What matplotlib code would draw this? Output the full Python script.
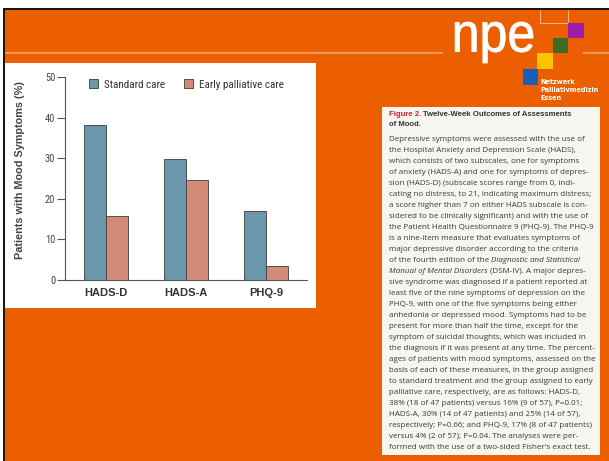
import numpy as np
import matplotlib
matplotlib.use('Agg')
import matplotlib.pyplot as plt
from matplotlib.patches import Rectangle, PathPatch
from matplotlib.textpath import TextPath
from matplotlib.font_manager import FontProperties, fontManager
from matplotlib.transforms import Affine2D
from matplotlib.lines import Line2D

# ---------------- data ----------------
categories = ['HADS-D', 'HADS-A', 'PHQ-9']
standard_care = [38.3, 29.8, 17.0]
early_palliative = [15.8, 24.6, 3.5]
series_labels = ['Standard care', 'Early palliative care']
y_ticks = [0, 10, 20, 30, 40, 50]
y_label = 'Patients with Mood Symptoms (%)'

caption_fig = 'Figure 2.'
caption_title = ['Twelve-Week Outcomes of Assessments', 'of Mood.']
caption_body = [
    "Depressive symptoms were assessed with the use of",
    "the Hospital Anxiety and Depression Scale (HADS),",
    "which consists of two subscales, one for symptoms",
    "of anxiety (HADS-A) and one for symptoms of depres-",
    "sion (HADS-D) (subscale scores range from 0, indi-",
    "cating no distress, to 21, indicating maximum distress;",
    "a score higher than 7 on either HADS subscale is con-",
    "sidered to be clinically significant) and with the use of",
    "the Patient Health Questionnaire 9 (PHQ-9). The PHQ-9",
    "is a nine-item measure that evaluates symptoms of",
    "major depressive disorder according to the criteria",
    "of the fourth edition of the *Diagnostic and Statistical*",
    "*Manual of Mental Disorders* (DSM-IV). A major depres-",
    "sive syndrome was diagnosed if a patient reported at",
    "least five of the nine symptoms of depression on the",
    "PHQ-9, with one of the five symptoms being either",
    "anhedonia or depressed mood. Symptoms had to be",
    "present for more than half the time, except for the",
    "symptom of suicidal thoughts, which was included in",
    "the diagnosis if it was present at any time. The percent-",
    "ages of patients with mood symptoms, assessed on the",
    "basis of each of these measures, in the group assigned",
    "to standard treatment and the group assigned to early",
    "palliative care, respectively, are as follows: HADS-D,",
    "38% (18 of 47 patients) versus 16% (9 of 57), P=0.01;",
    "HADS-A, 30% (14 of 47 patients) and 25% (14 of 57),",
    "respectively; P=0.66; and PHQ-9, 17% (8 of 47 patients)",
    "versus 4% (2 of 57); P=0.04. The analyses were per-",
    "formed with the use of a two-sided Fisher's exact test.",
]
logo_word = 'npe'
logo_lines = ['Netzwerk', 'Palliativmedizin', 'Essen']

# ---------------- fonts ----------------
names = {f.name for f in fontManager.ttflist}
def pick(cands, default):
    for c in cands:
        if c in names:
            return c
    return default
NARROW = pick(['Liberation Sans Narrow', 'DejaVu Sans Condensed', 'Roboto Condensed'], 'Liberation Sans')
SANS = 'Liberation Sans'
CAP = pick(['Open Sans', 'Noto Sans'], 'Liberation Sans')

W, H = 609, 461
fig = plt.figure(figsize=(W / 100, H / 100), dpi=100)
fig.patch.set_facecolor('white')
PX = Affine2D().scale(1.0 / W, 1.0 / H) + fig.transFigure

def rect(x, y, w, h, color, z=-5):
    fig.add_artist(Rectangle((x, H - y - h), w, h, transform=PX,
                             facecolor=color, edgecolor='none', zorder=z))

def line(xs, ys, color, lw, z=-4):
    fig.add_artist(Line2D(xs, [H - v for v in ys], transform=PX, color=color,
                          linewidth=lw, zorder=z, solid_capstyle='butt'))

ORANGE = '#EB5F00'
DARK = '#1E150B'
rect(5, 10, W - 5, H - 10, ORANGE, z=-10)
rect(3, 8, W - 3, 2, DARK, z=-9)
rect(3, 8, 2, H - 8, DARK, z=-9)
line([5, 443], [53.5, 53.5], '#F5A86E', 1.1)
line([583, W], [53.5, 53.5], '#F5A86E', 1.1)
rect(5, 63, 311, 245, 'white', z=-8)
rect(382, 107, 218, 348, '#F7F5F0', z=-8)

# ---------------- logo ----------------
line([540, 540, 568, 568], [10, 23, 23, 10], '#F4B27E', 0.8)
rect(568, 23, 16, 15, '#9C1DA6', z=-3)
rect(553, 38, 15, 15, '#3E6B26', z=-3)
rect(537, 53, 16, 16, '#FFC400', z=-3)
rect(523, 69, 15, 16, '#1A5EB8', z=-3)

tp = TextPath((0, 0), logo_word, size=100, prop=FontProperties(family=SANS))
bb = tp.get_extents()
sx = 78.0 / bb.width
sy = 41.0 / bb.height
tr = Affine2D().translate(-bb.x0, -bb.y1).scale(sx, sy).translate(455, H - 22) + PX
fig.add_artist(PathPatch(tp, transform=tr, facecolor='white', edgecolor='white',
                         linewidth=0.6, zorder=-2))
for i, s in enumerate(logo_lines):
    fig.text(540 / W, 1 - (84.5 + 7.5 * i) / H, s, fontsize=4.7, fontweight='bold',
             family='DejaVu Sans', color='white', va='baseline', ha='left')

# ---------------- chart ----------------
STD = '#6A97AC'
EPC = '#D28B76'
ax = fig.add_axes([65 / W, (H - 280) / H, 242 / W, 203 / H])
x = np.arange(len(categories))
bw = 0.27
ax.bar(x - bw / 2, standard_care, bw, color=STD, edgecolor='#3c3c3c', linewidth=0.6,
       label=series_labels[0])
ax.bar(x + bw / 2, early_palliative, bw, color=EPC, edgecolor='#3c3c3c', linewidth=0.6,
       label=series_labels[1])
ax.set_xlim(-0.5125, 2.5125)
ax.set_ylim(0, 50)
ax.set_yticks(y_ticks)
ax.set_yticklabels([str(v) for v in y_ticks], family=NARROW, fontsize=7.5, color='#444444')
ax.set_xticks(x)
ax.set_xticklabels(categories, family=SANS, fontsize=8, fontweight='bold', color='#333333')
ax.tick_params(axis='y', length=6, width=0.8, color='#555555', pad=1, direction='out')
ax.tick_params(axis='x', length=0, pad=6)
for s in ['top', 'right']:
    ax.spines[s].set_visible(False)
for s in ['left', 'bottom']:
    ax.spines[s].set_color('#555555')
    ax.spines[s].set_linewidth(0.8)
ax.set_ylabel(y_label, family=SANS, fontsize=7.8, fontweight='bold', color='#444444')
ax.yaxis.set_label_coords((25 - 65) / 242, (280 - 170) / 203)
leg = ax.legend(ncol=2, loc='center left', bbox_to_anchor=((89 - 65) / 242, (280 - 84.5) / 203),
                frameon=False, borderpad=0, borderaxespad=0, handlelength=0.85,
                handleheight=0.85, handletextpad=0.5, columnspacing=1.7,
                prop=FontProperties(family=NARROW, size=8))
for t in leg.get_texts():
    t.set_color('#333333')

# ---------------- caption ----------------
renderer = fig.canvas.get_renderer()
def tw(s, fp):
    return renderer.get_text_width_height_descent(s, fp, ismath=False)[0]
def space_w(fp):
    return tw('x x', fp) - tw('xx', fp)

def draw_runs(x0, ybase, runs):
    xx = x0
    for s, fp, col in runs:
        sp = space_w(fp)
        lead = len(s) - len(s.lstrip(' '))
        trail = len(s) - len(s.rstrip(' '))
        core = s.strip(' ')
        xx += lead * sp
        if core:
            fig.text(xx / W, 1 - ybase / H, core, fontproperties=fp, color=col,
                     va='baseline', ha='left')
            xx += tw(core, fp)
        xx += trail * sp

# fit caption font sizes to the column widths measured on the reference
ref_body = FontProperties(family=CAP, size=10)
body_size = 10 * 204.0 / tw(caption_body[5], ref_body)
ref_title = FontProperties(family=SANS, size=10, weight='bold')
title_size = 10 * 184.0 / (tw(caption_fig, ref_title) + space_w(ref_title) + tw(caption_title[0], ref_title))

BODY = FontProperties(family=CAP, size=body_size)
BODYI = FontProperties(family=CAP, size=body_size, style='italic')
TITLE = FontProperties(family=SANS, size=title_size, weight='bold')
TX = 389
BODYC = '#3a3a3a'
draw_runs(TX, 116.5, [(caption_fig + ' ', TITLE, '#C3262E'), (caption_title[0], TITLE, '#333333')])
draw_runs(TX, 126.5, [(caption_title[1], TITLE, '#333333')])
for i, ln in enumerate(caption_body):
    parts = ln.split('*')
    runs = []
    for j, p in enumerate(parts):
        if p:
            runs.append((p, BODYI if j % 2 == 1 else BODY, BODYC))
    draw_runs(TX, 140.8 + 11.0 * i, runs)

fig.savefig('out.png', dpi=100, facecolor=fig.get_facecolor())
